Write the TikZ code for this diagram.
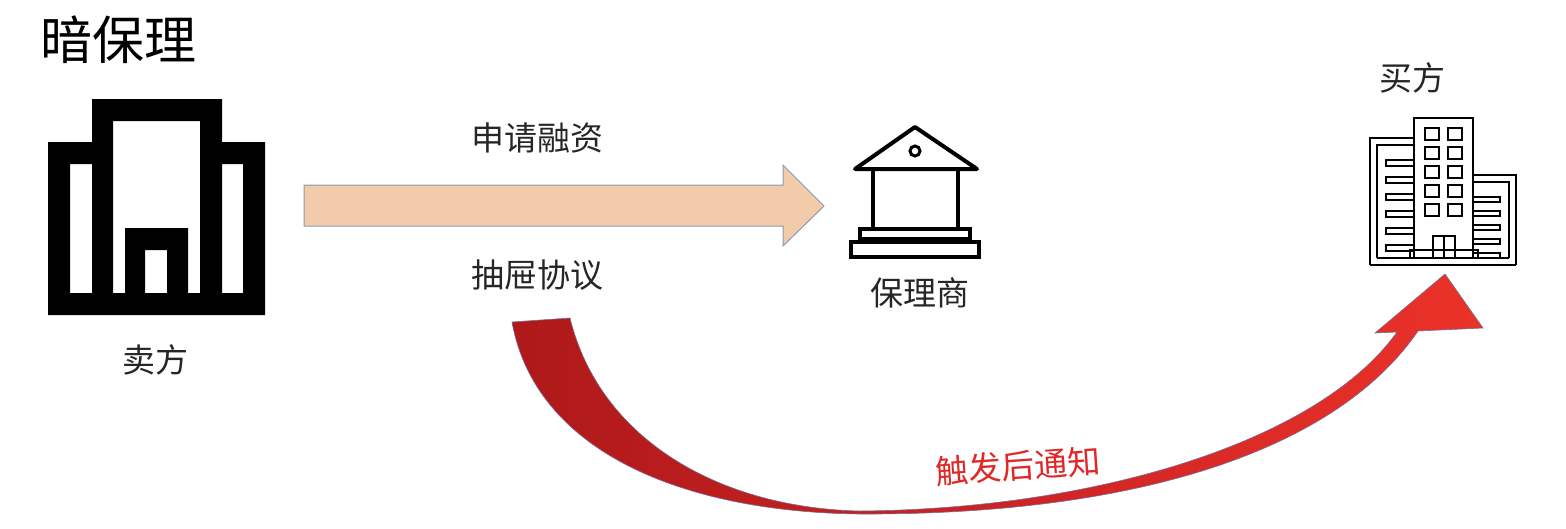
\documentclass[tikz,border=0pt]{standalone}
\usepackage{fontspec}
\setmainfont{Noto Sans CJK SC}
\begin{document}
\begin{tikzpicture}[x=1pt,y=-1pt,
  lbl/.style={inner sep=0pt,font=\fontsize{33}{33}\selectfont,text=black!85},
  ico/.style={draw=black,line width=4pt,line join=miter},
  thin/.style={draw=black,line width=2.6pt}]
\useasboundingbox (0,0) rectangle (1566,528);
\node[lbl,font=\fontsize{52}{52}\selectfont,text=black] (title) at (118,40) {暗保理};
% seller
\fill[black,even odd rule]
 (48,315) -- (48,142) -- (92,142) -- (92,99) -- (222,99) -- (222,142) -- (265,142) -- (265,315) -- cycle
 (113,121) rectangle (200,293)
 (125,228) rectangle (188,293)
 (145,250) rectangle (167,293)
 (70,164) rectangle (92,293)
 (222,164) rectangle (243,293);
\node[lbl] (seller) at (155,360) {卖方};
% band arrow
\filldraw[fill={rgb,255:red,242;green,203;blue,170},draw={rgb,255:red,140;green,155;blue,176},line width=1pt]
 (304,185) -- (783,185) -- (783,165) -- (824,206) -- (783,246) -- (783,226) -- (304,226) -- cycle;
\node[lbl] (apply) at (537,138) {申请融资};
\node[lbl] (agree) at (537,275) {抽屉协议};
% bank
\draw[ico,line join=round] (855,169) -- (915,127) -- (977,169) -- cycle;
\draw[line width=3pt] (915,151) circle (5);
\draw[ico] (873,170) -- (873,229);
\draw[ico] (958,170) -- (958,229);
\draw[ico] (860,229) rectangle (970,239);
\draw[ico] (851,242) rectangle (979,257);
\node[lbl] (factor) at (920,293) {保理商};
% buyer building
\draw[thin] (1414,258) -- (1414,118) -- (1473,118) -- (1473,258);
\draw[thin] (1370,265) -- (1370,138) -- (1414,138);
\draw[thin] (1377,258) -- (1377,145) -- (1414,145);
\draw[thin] (1473,175) -- (1516,175) -- (1516,265);
\draw[thin] (1473,182) -- (1509,182) -- (1509,258);
\draw[thin] (1370,265) -- (1516,265);
\draw[thin] (1377,258) -- (1509,258);
\foreach \r in {0,...,4}{
  \draw[thin] (1425,{128+\r*19}) rectangle (1439,{140+\r*19});
  \draw[thin] (1448,{128+\r*19}) rectangle (1462,{140+\r*19});}
\foreach \r in {0,...,5}{
  \draw[thin] (1386,{160+\r*17}) rectangle (1414,{166+\r*17});}
\foreach \r in {0,...,4}{
  \draw[thin] (1473,{197+\r*14}) rectangle (1500,{202+\r*14});}
\draw[thin] (1433,258) -- (1433,236) -- (1455,236) -- (1455,258);
\draw[thin] (1444,236) -- (1444,258);
\draw[thin] (1410,258) -- (1410,250) -- (1478,250) -- (1478,258);
\node[lbl] (buyer) at (1412,78) {买方};
% curved red arrow
\shade[left color={rgb,255:red,175;green,25;blue,25},right color={rgb,255:red,235;green,50;blue,40},middle color={rgb,255:red,205;green,35;blue,35},draw={rgb,255:red,120;green,110;blue,150},line width=0.6pt]
 (512,322) .. controls (535,450) and (680,512) .. (860,514)
 .. controls (1150,515) and (1340,445) .. (1418,331)
 -- (1483,328) -- (1445,274) -- (1375,333) -- (1397,332)
 .. controls (1320,440) and (1100,509) .. (860,511)
 .. controls (720,508) and (600,440) .. (570,318) -- cycle;
\node[lbl,text={rgb,255:red,225;green,40;blue,40},rotate=4] (notify) at (1018,466) {触发后通知};
\end{tikzpicture}
\end{document}
